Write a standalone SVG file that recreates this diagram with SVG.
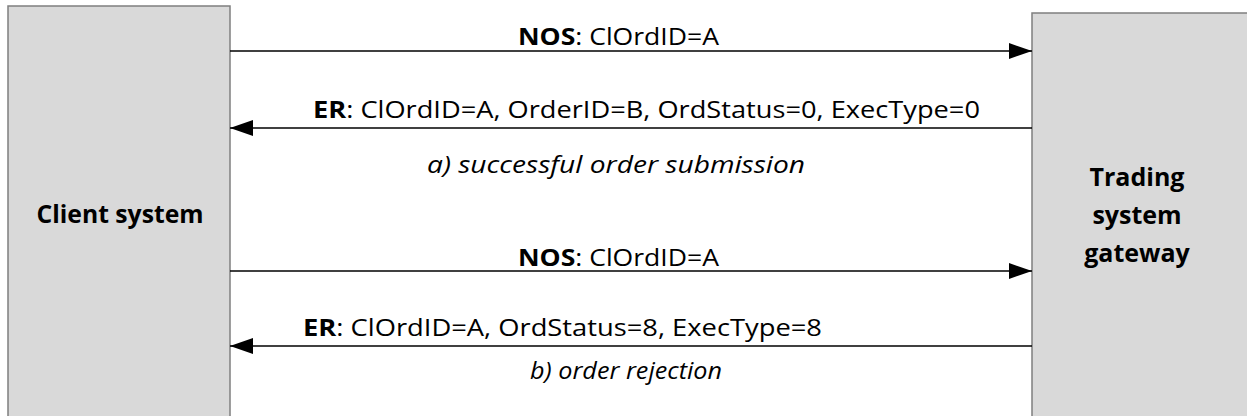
<svg xmlns="http://www.w3.org/2000/svg" width="1247" height="416" viewBox="0 0 1247 416">
<style>
.box{fill:#d9d9d9;stroke:#7f7f7f;stroke-width:1.5}
.lbl{font-family:"Open Sans","Liberation Sans",sans-serif;font-size:23px;fill:#000}
.node{font-family:"Open Sans","Liberation Sans",sans-serif;font-size:25px;font-weight:bold;fill:#000;text-anchor:middle}
.cap{font-family:"Open Sans","Liberation Sans",sans-serif;font-size:23px;font-style:italic;fill:#000}
.b{font-weight:bold}
.conn{stroke:#000;stroke-width:1.5;fill:none}
</style>
<defs>
<marker id="ah" viewBox="0 0 23 16" refX="23" refY="8" markerWidth="23" markerHeight="16" markerUnits="userSpaceOnUse" orient="auto">
<path d="M0,0 L23,8 L0,16 Z" fill="#000"/>
</marker>
</defs>
<g id="client">
<rect class="box" x="8" y="6" width="222" height="420"/>
<text class="node" x="120" y="223" textLength="167" lengthAdjust="spacingAndGlyphs">Client system</text>
</g>
<g id="gateway">
<rect class="box" x="1032" y="13" width="230" height="420"/>
<text class="node" x="1137" y="186">Trading</text>
<text class="node" x="1137" y="224">system</text>
<text class="node" x="1137" y="262">gateway</text>
</g>
<g id="connectors">
<line class="conn" x1="230" y1="51" x2="1032" y2="51" marker-end="url(#ah)"/>
<line class="conn" x1="1032" y1="128" x2="230" y2="128" marker-end="url(#ah)"/>
<line class="conn" x1="230" y1="271" x2="1032" y2="271" marker-end="url(#ah)"/>
<line class="conn" x1="1032" y1="346" x2="230" y2="346" marker-end="url(#ah)"/>
</g>
<g id="labels">
<text class="lbl" x="518" y="45" textLength="201" lengthAdjust="spacingAndGlyphs"><tspan class="b">NOS</tspan>: ClOrdID=A</text>
<text class="lbl" x="313" y="118" textLength="667" lengthAdjust="spacingAndGlyphs"><tspan class="b">ER</tspan>: ClOrdID=A, OrderID=B, OrdStatus=0, ExecType=0</text>
<text class="cap" x="427" y="173" textLength="378" lengthAdjust="spacingAndGlyphs">a) successful order submission</text>
<text class="lbl" x="518" y="266" textLength="201" lengthAdjust="spacingAndGlyphs"><tspan class="b">NOS</tspan>: ClOrdID=A</text>
<text class="lbl" x="303" y="336" textLength="519" lengthAdjust="spacingAndGlyphs"><tspan class="b">ER</tspan>: ClOrdID=A, OrdStatus=8, ExecType=8</text>
<text class="cap" x="530" y="379" textLength="192" lengthAdjust="spacingAndGlyphs">b) order rejection</text>
</g>
</svg>
